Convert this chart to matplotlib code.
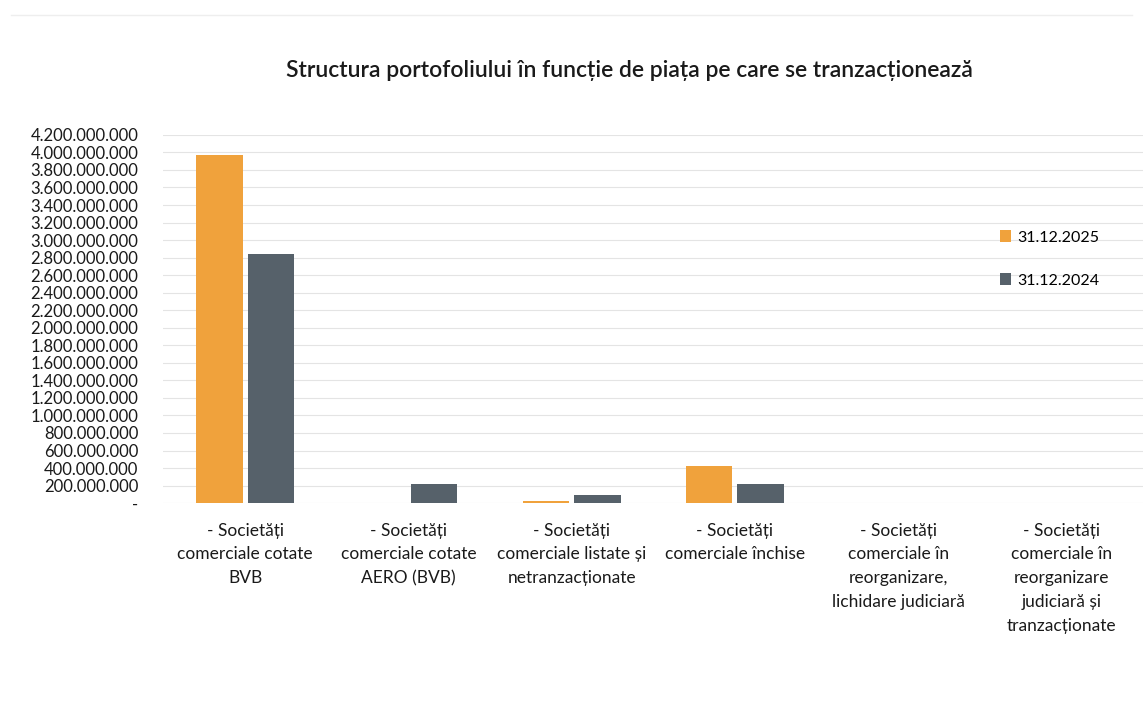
import matplotlib
matplotlib.use("Agg")
import matplotlib.pyplot as plt
import numpy as np
from matplotlib.ticker import FuncFormatter, MultipleLocator

categories = [
    "- Societăți\ncomerciale cotate\nBVB",
    "- Societăți\ncomerciale cotate\nAERO (BVB)",
    "- Societăți\ncomerciale listate și\nnetranzacționate",
    "- Societăți\ncomerciale închise",
    "- Societăți\ncomerciale în\nreorganizare,\nlichidare judiciară",
    "- Societăți\ncomerciale în\nreorganizare\njudiciară și\ntranzacționate",
]
series_labels = ["31.12.2025", "31.12.2024"]
values_2025 = [3970000000, 0, 20000000, 420000000, 0, 0]
values_2024 = [2840000000, 220000000, 90000000, 220000000, 0, 0]
colors = ["#F0A23C", "#56616A"]
title = "Structura portofoliului în funcție de piața pe care se tranzacționează"

plt.rcParams['font.family'] = ['Lato', 'DejaVu Sans']

fig = plt.figure(figsize=(11.43, 7.25), dpi=100)
ax = fig.add_axes([0.143, 0.306, 0.857, 0.508])

x = np.arange(len(categories))
w = 0.285
gap = 0.015
ax.bar(x - w / 2 - gap, values_2025, width=w, color=colors[0], label=series_labels[0], zorder=3)
ax.bar(x + w / 2 + gap, values_2024, width=w, color=colors[1], label=series_labels[1], zorder=3)

ax.set_xlim(-0.5, len(categories) - 0.5)
ax.set_ylim(0, 4200000000)
ax.yaxis.set_major_locator(MultipleLocator(200000000))

def fmt(v, pos):
    if v == 0:
        return "-"
    return f"{int(round(v)):,}".replace(",", ".")

ax.yaxis.set_major_formatter(FuncFormatter(fmt))
ax.grid(axis='y', color='#e4e4e4', linewidth=0.8, zorder=0)
for s in ax.spines.values():
    s.set_visible(False)
ax.tick_params(axis='both', length=0)
ax.tick_params(axis='y', labelsize=12, pad=18, labelcolor='#1a1a1a')
ax.set_xticks(x)
ax.set_xticklabels(categories, fontsize=12.5, color='#1a1a1a', linespacing=1.6)
ax.tick_params(axis='x', pad=14)

fig.text(0.551, 0.903, title, ha='center', va='center', fontsize=16.5, fontweight='semibold', color='#1a1a1a')

fig.legend(loc='upper left', bbox_to_anchor=(0.862, 0.702), frameon=False,
           fontsize=11.5, handlelength=0.7, handleheight=0.7, handletextpad=0.4,
           labelspacing=1.8)

fig.add_artist(plt.Line2D([0.01, 0.99], [0.979, 0.979], color='#eeeeee', linewidth=1, transform=fig.transFigure))

fig.savefig("out.png", dpi=100)
